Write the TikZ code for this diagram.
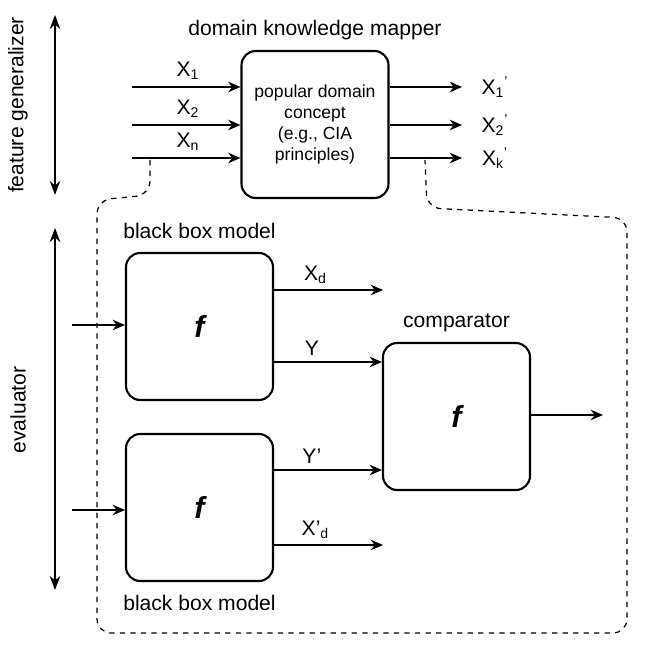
\documentclass[tikz,border=0pt]{standalone}
\usepackage{fontspec}
\setmainfont{Liberation Sans}
\usetikzlibrary{positioning,arrows.meta}
\tikzset{
  blk/.style={draw,line width=1.2pt,rounded corners=8pt,minimum width=2.94cm,minimum height=2.94cm,inner sep=0pt},
  arr/.style={-{Stealth[length=7pt,width=6pt]},line width=0.7pt},
  lbl/.style={font=\large},
  ff/.style={font=\LARGE\bfseries\itshape}
}
\begin{document}
\begin{tikzpicture}[x=0.02cm,y=-0.02cm]
  \useasboundingbox (0,0) rectangle (655,655);

  % mapper
  \node[blk,align=center,font=\normalsize] (map) at (315,124.5) {popular domain\\concept\\(e.g., CIA\\principles)};
  \node[lbl,above=2pt of map] {domain knowledge mapper};
  \foreach \y/\n/\t in {87/1/X\textsubscript{1},125/2/X\textsubscript{2},158/3/X\textsubscript{n}}{
    \coordinate (in\n) at (132,\y);
    \draw[arr] (in\n) -- (in\n -| map.west);
    \node[lbl] at (188,\y-16) {\t};
  }
  \foreach \y/\n/\t in {87/1/X\textsubscript{1}\textsuperscript{'},125/2/X\textsubscript{2}\textsuperscript{'},158/3/X\textsubscript{k}\textsuperscript{'}}{
    \coordinate (out\n) at (462,\y);
    \draw[arr] (out\n -| map.east) -- (out\n);
    \node[lbl] at (495,\y) {\t};
  }

  % side arrows
  \draw[{Stealth[length=8pt]}-{Stealth[length=8pt]},line width=1pt] (55,15) -- (55,195);
  \node[lbl,rotate=90] at (18,105) {feature generalizer};
  \draw[{Stealth[length=8pt]}-{Stealth[length=8pt]},line width=1pt] (55,228) -- (55,590);
  \node[lbl,rotate=90] at (18,410) {evaluator};

  % black boxes
  \node[blk,ff] (bb1) at (199.5,326.5) {f};
  \node[lbl,above=4pt of bb1] {black box model};
  \node[blk,ff] (bb2) at (199.5,507.5) {f};
  \node[lbl,below=4pt of bb2] {black box model};
  \node[blk,ff] (cmp) at (456.5,416.5) {f};
  \node[lbl,above=2pt of cmp] {comparator};

  % connectors
  \coordinate (e1) at (72,325);
  \coordinate (e2) at (72,510);
  \draw[arr] (e1) -- (e1 -| bb1.west);
  \draw[arr] (e2) -- (e2 -| bb2.west);
  \coordinate (xd) at (383,290);
  \coordinate (xd2) at (383,545);
  \draw[arr] (xd -| bb1.east) -- (xd) node[lbl,pos=0.38,above] {X\textsubscript{d}};
  \draw[arr] (xd2 -| bb2.east) -- (xd2) node[lbl,pos=0.38,above] {X'\textsubscript{d}};
  \draw[arr] (bb1.east |- 0,362) -- (cmp.west |- 0,362) node[lbl,pos=0.35,above] {Y};
  \draw[arr] (bb2.east |- 0,470) -- (cmp.west |- 0,470) node[lbl,pos=0.35,above] {Y'};
  \coordinate (res) at (603,415);
  \draw[arr] (cmp.east |- res) -- (res);

  % feedback loop
  \draw[dashed,line width=0.7pt,rounded corners=8pt]
    (150,160) -- (150,195) -- (97,200) -- (97,633) -- (627,633) -- (627,218) -- (427,208) -- (425,160);
\end{tikzpicture}
\end{document}
